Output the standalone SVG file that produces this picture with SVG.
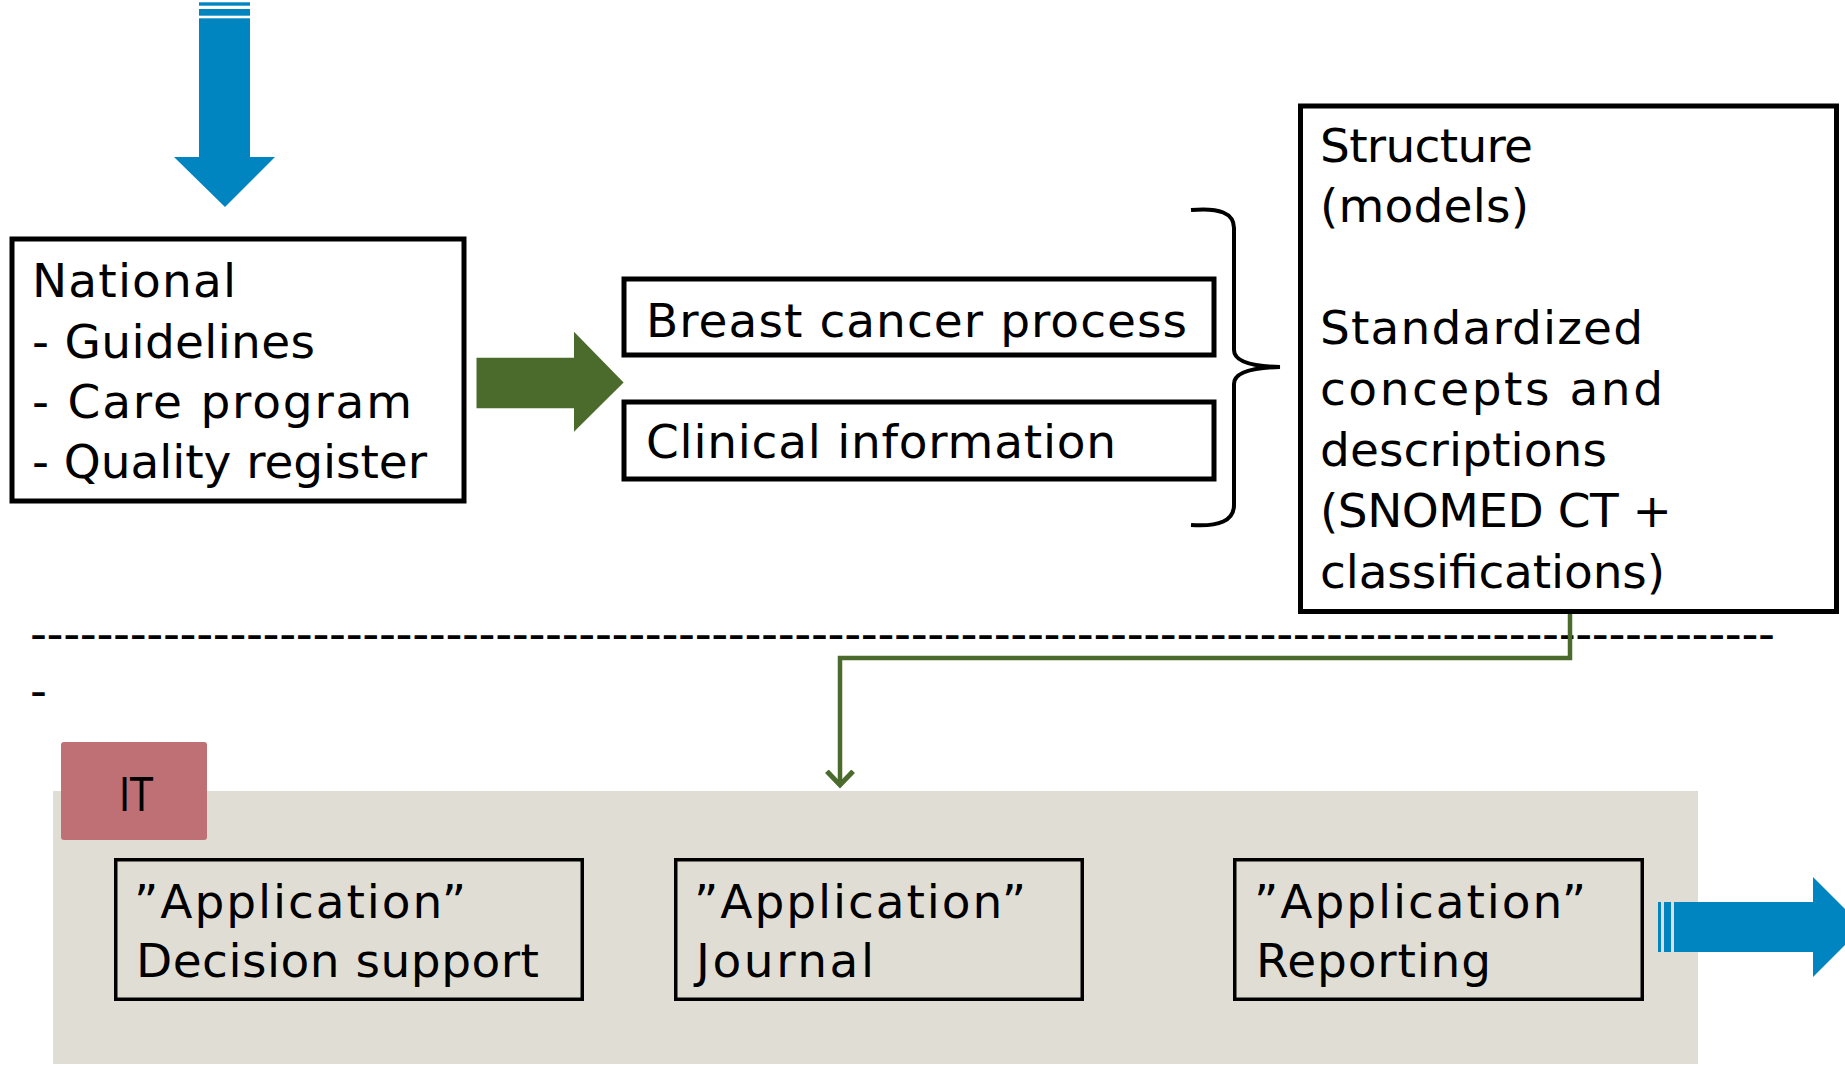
<svg xmlns="http://www.w3.org/2000/svg" width="1845" height="1066" viewBox="0 0 1845 1066">
  <defs>
    <style>
      .t { font-family: "DejaVu Sans", "Liberation Sans", sans-serif; font-size: 47px; fill: #000; }
      .box { fill: #fff; stroke: #000; stroke-width: 5; }
      .app { fill: none; stroke: #000; stroke-width: 3.5; }
      .blue { fill: #0085C0; }
      .green { fill: #4A6B2B; }
      .conn { fill: none; stroke: #4A6B2B; stroke-width: 4.5; }
    </style>
    <marker id="openArrow" markerUnits="userSpaceOnUse" markerWidth="30" markerHeight="30" refX="12" refY="12" viewBox="0 0 24 24" orient="auto">
      <polyline points="1,1.5 12,12 1,22.5" fill="none" stroke="#4A6B2B" stroke-width="4"/>
    </marker>
  </defs>

  <rect width="1845" height="1066" fill="#fff"/>

  <!-- Blue input arrow (top) -->
  <g id="arrow-in">
    <rect class="blue" x="199" y="2.3" width="51" height="3.4"/>
    <rect class="blue" x="199" y="9" width="51" height="6.7"/>
    <rect class="blue" x="199" y="18.3" width="51" height="139"/>
    <polygon class="blue" points="174,157 275,157 225,207"/>
  </g>

  <!-- National box -->
  <g id="national">
    <rect class="box" x="12" y="239" width="452" height="262"/>
    <text class="t" x="32" y="297" textLength="204" lengthAdjust="spacing">National</text>
    <text class="t" x="32" y="357.5" textLength="283" lengthAdjust="spacing">- Guidelines</text>
    <text class="t" x="32" y="418" textLength="380" lengthAdjust="spacing">- Care program</text>
    <text class="t" x="32" y="478" textLength="395" lengthAdjust="spacing">- Quality register</text>
  </g>

  <!-- Green block arrow -->
  <g id="arrow-green">
    <polygon class="green" points="476.5,357.7 574,357.7 574,331.8 623.6,382.4 574,431.8 574,408.3 476.5,408.3"/>
  </g>

  <!-- Breast cancer process -->
  <g id="breast-cancer-process">
    <rect class="box" x="624" y="279" width="590" height="76"/>
    <text class="t" x="646" y="337" textLength="541" lengthAdjust="spacing">Breast cancer process</text>
  </g>

  <!-- Clinical information -->
  <g id="clinical-information">
    <rect class="box" x="624" y="402" width="590" height="77"/>
    <text class="t" x="646" y="458" textLength="470" lengthAdjust="spacing">Clinical information</text>
  </g>

  <!-- Brace -->
  <g id="brace">
    <path d="M1191,210 Q1234,206 1234,228 L1234,350 Q1234,366 1280,367 Q1234,368 1234,384 L1234,505 Q1234,528 1191,525" fill="none" stroke="#000" stroke-width="4"/>
  </g>

  <!-- Structure box -->
  <g id="structure">
    <rect class="box" x="1300.5" y="106" width="536" height="505.5"/>
    <text class="t" x="1320" y="162" textLength="213" lengthAdjust="spacing">Structure</text>
    <text class="t" x="1320" y="222" textLength="209" lengthAdjust="spacing">(models)</text>
    <text class="t" x="1320" y="344" textLength="323" lengthAdjust="spacing">Standardized</text>
    <text class="t" x="1320" y="405" textLength="343" lengthAdjust="spacing">concepts and</text>
    <text class="t" x="1320" y="466" textLength="287" lengthAdjust="spacing">descriptions</text>
    <text class="t" x="1320" y="527" textLength="352" lengthAdjust="spacing">(SNOMED CT +</text>
    <text class="t" x="1320" y="588" textLength="345" lengthAdjust="spacing">classifications)</text>
  </g>

  <!-- Separator line of hyphens -->
  <g id="separator">
    <text class="t" x="30" y="650" textLength="1745" lengthAdjust="spacing">---------------------------------------------------------------------------------------------------------</text>
    <text class="t" x="30" y="707">-</text>
  </g>

  <!-- IT panel -->
  <g id="it-panel">
    <rect x="53" y="791" width="1645" height="273" fill="#E0DED4"/>
  </g>
  <g id="it-label">
    <rect x="61" y="742" width="146" height="98" rx="3" fill="#BE7075"/>
    <text class="t" x="119" y="811" textLength="34" lengthAdjust="spacingAndGlyphs">IT</text>
  </g>

  <g id="app-decision-support">
    <rect class="app" x="115.75" y="859.75" width="466.5" height="139.5"/>
    <text class="t" x="134" y="918" textLength="332" lengthAdjust="spacing">”Application”</text>
    <text class="t" x="136" y="977" textLength="403" lengthAdjust="spacing">Decision support</text>
  </g>

  <g id="app-journal">
    <rect class="app" x="675.75" y="859.75" width="406.5" height="139.5"/>
    <text class="t" x="694" y="918" textLength="332" lengthAdjust="spacing">”Application”</text>
    <text class="t" x="696" y="977" textLength="178" lengthAdjust="spacing">Journal</text>
  </g>

  <g id="app-reporting">
    <rect class="app" x="1234.75" y="859.75" width="407.5" height="139.5"/>
    <text class="t" x="1254" y="918" textLength="332" lengthAdjust="spacing">”Application”</text>
    <text class="t" x="1256" y="977" textLength="235" lengthAdjust="spacing">Reporting</text>
  </g>

  <!-- Blue output arrow (right) -->
  <g id="arrow-out">
    <rect class="blue" x="1658" y="902" width="3" height="50"/>
    <rect class="blue" x="1664" y="902" width="7" height="50"/>
    <rect class="blue" x="1674" y="902" width="139" height="50"/>
    <polygon class="blue" points="1813,877 1813,977 1863,927"/>
  </g>

  <!-- Connectors -->
  <g id="connectors">
    <polyline class="conn" points="1570,614 1570,658 840,658 840,785" marker-end="url(#openArrow)"/>
  </g>
</svg>
